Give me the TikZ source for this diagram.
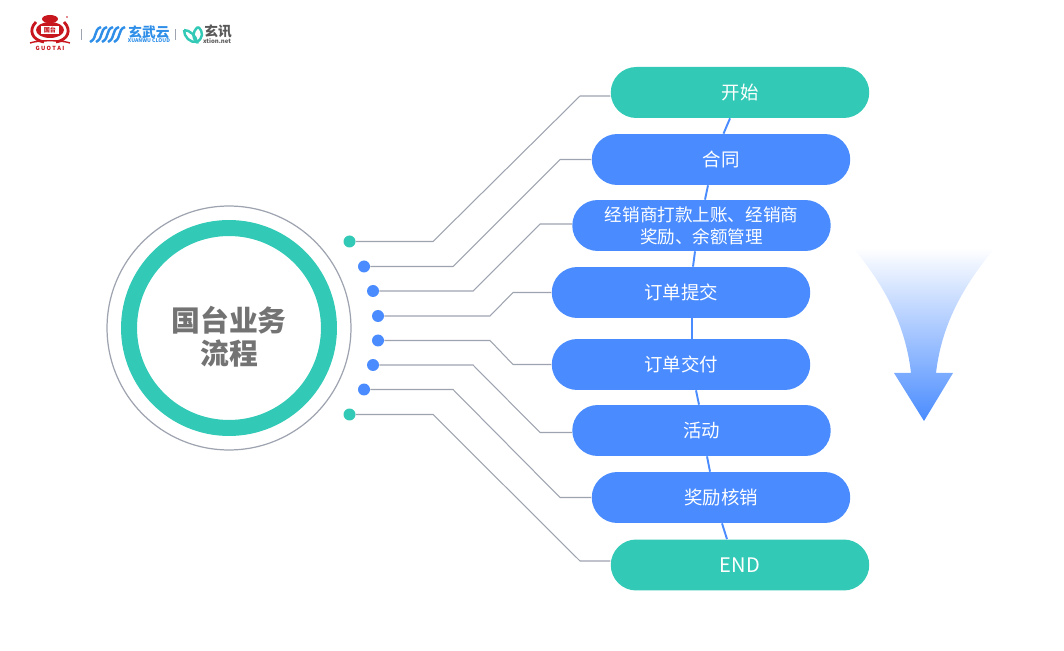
\documentclass[tikz,border=0pt]{standalone}
\usepackage{fontspec}
\setmainfont{Noto Sans CJK SC}
\usepackage{xcolor}
\usetikzlibrary{calc}
\definecolor{teal0}{HTML}{32CAB6}
\definecolor{blue0}{HTML}{4A8CFF}
\definecolor{wire0}{HTML}{9EA3B0}
\definecolor{crest0}{HTML}{C8161E}
\definecolor{logoblue}{HTML}{2F8FE8}
\begin{document}
\begin{tikzpicture}[x=0.02cm,y=-0.02cm,font=\fontsize{10.5}{12.5}\selectfont,
  pill/.style={rounded corners=0.51cm,minimum width=5.17cm,minimum height=1.02cm,inner sep=0pt,text width=4.6cm,align=center,text=white,fill=blue0},
  pillg/.style={pill,fill=teal0},
  dot/.style={circle,minimum size=0.24cm,inner sep=0pt,fill=blue0},
  dotg/.style={dot,fill=teal0},
  wire/.style={draw=wire0,line width=0.6pt},
  spine/.style={draw=blue0,line width=1.1pt},
  logotext/.style={inner sep=0pt,font=\fontsize{7.8}{8}\selectfont\bfseries,text=logoblue}]
\useasboundingbox (0,0) rectangle (1064,651);

\node[pillg] (start) at (740,92.5) {开始};
\node[pill] (hetong) at (721,159.5) {合同};
\node[pill,font=\fontsize{10}{12.5}\selectfont] (dakuan) at (701.5,225.5) {经销商打款上账、经销商\\奖励、余额管理};
\node[pill] (tijiao) at (681,292.5) {订单提交};
\node[pill] (jiaofu) at (681,364.5) {订单交付};
\node[pill] (huodong) at (701.5,430.5) {活动};
\node[pill] (hexiao) at (721,497.5) {奖励核销};
\node[pillg,font=\fontsize{11.4}{13}\selectfont] (end) at (740,565) {END};

\draw[spine] ($(start.south)+(-10,0)$) -- ($(hetong.north)+(2.5,0)$);
\draw[spine] ($(hetong.south)+(-13,0)$) -- ($(dakuan.north)+(3.5,0)$);
\draw[spine] ($(dakuan.south)+(-6.5,0)$) -- ($(tijiao.north)+(12,0)$);
\draw[spine] ($(tijiao.south)+(11,0)$) -- ($(jiaofu.north)+(11,0)$);
\draw[spine] ($(jiaofu.south)+(15,0)$) -- ($(huodong.north)+(-2.5,0)$);
\draw[spine] ($(huodong.south)+(5.5,0)$) -- ($(hexiao.north)+(-11,0)$);
\draw[spine] ($(hexiao.south)+(1,0)$) -- ($(end.north)+(-13,0)$);

\node[draw=wire0,line width=0.7pt,circle,minimum size=4.88cm,inner sep=0pt] (outer) at (229,328) {};
\node[draw=teal0,line width=0.32cm,circle,minimum size=4cm,inner sep=0pt] (ring) at (229,328) {};
\node[inner sep=0pt,align=center,text=black!55,font=\fontsize{16.4}{19}\selectfont\bfseries] (title) at ($(ring)+(0,8.5)$) {国台业务\\流程};

\node[dotg] (d1) at (349.5,241.5) {};
\node[dot] (d2) at (364,266.5) {};
\node[dot] (d3) at (373,291) {};
\node[dot] (d4) at (378,316) {};
\node[dot] (d5) at (378,340.5) {};
\node[dot] (d6) at (373,365) {};
\node[dot] (d7) at (364,389.5) {};
\node[dotg] (d8) at (349.5,414.5) {};

\draw[wire] (d1) -- (433,241.5) -- (580,96) -- ($(start.west)+(0,3.5)$);
\draw[wire] (d2) -- (453,266.5) -- (560,159.5) -- (hetong.west);
\draw[wire] (d3) -- (473,291) -- (540,224) -- ($(dakuan.west)+(0,-1.5)$);
\draw[wire] (d4) -- (490,316) -- (513,292.5) -- (tijiao.west);
\draw[wire] (d5) -- (490,340.5) -- (513,364.5) -- (jiaofu.west);
\draw[wire] (d6) -- (473,365) -- (540,432.5) -- ($(huodong.west)+(0,2)$);
\draw[wire] (d7) -- (453,389.5) -- (560,497.5) -- (hexiao.west);
\draw[wire] (d8) -- (433,414.5) -- (580,561) -- ($(end.west)+(0,-4)$);

\shade[top color=white,bottom color=blue0]
  (853,248) .. controls (880,280) and (905,320) .. (911,373) -- (894,373) -- (924,421)
  -- (953,373) -- (936,373) .. controls (942,320) and (968,280) .. (995,248) -- cycle;

\fill[crest0] (50,19) ellipse (8 and 4);
\draw[crest0,line width=1.6pt] (36,22) .. controls (28,30) and (32,40) .. (44,42);
\draw[crest0,line width=1.6pt] (64,22) .. controls (72,30) and (68,40) .. (56,42);
\fill[crest0] (50,30) ellipse (14 and 8);
\fill[white] (41,26) rectangle (59,34);
\draw[crest0,line width=0.8pt] (30,43) .. controls (38,40) and (62,40) .. (70,43);
\fill[crest0] (67,17) circle (0.8);
\node[inner sep=0pt,text=crest0,font=\fontsize{3.5}{4}\selectfont\bfseries] (guotaicn) at (50,30) {国台};
\node[inner sep=0pt,text=crest0,font=\fontsize{3.2}{4}\selectfont\bfseries] (guotai) at (50,48) {G U O T A I};

\draw[wire0,line width=0.5pt] (81.5,29) -- (81.5,40);
\foreach \i in {0,6,12,18,24}
  \draw[logoblue,line width=1.4pt] (90+\i,42) .. controls (98+\i,38) and (93+\i,30) .. (101+\i,27);
\node[logotext] (xuanwu) at (149,32) {玄武云};
\node[logotext,font=\fontsize{2.9}{3}\selectfont\bfseries] (xuanwuen) at (149,41) {XUANWU CLOUD};

\draw[wire0,line width=0.5pt] (175.5,29) -- (175.5,40);
\draw[teal0,line width=1.4pt] (184,30) .. controls (190,30) and (196,36) .. (197,42) .. controls (190,43) and (184,37) .. (184,30);
\draw[teal0,line width=1.4pt] (198,27) .. controls (204,32) and (203,38) .. (197,42) .. controls (192,38) and (192,32) .. (198,27);
\node[logotext,text=black!65] (xuanxun) at (218,31.5) {玄讯};
\node[logotext,text=black!65,font=\fontsize{3.4}{4}\selectfont\bfseries] (xtion) at (217,41) {xtion.net};
\end{tikzpicture}
\end{document}
